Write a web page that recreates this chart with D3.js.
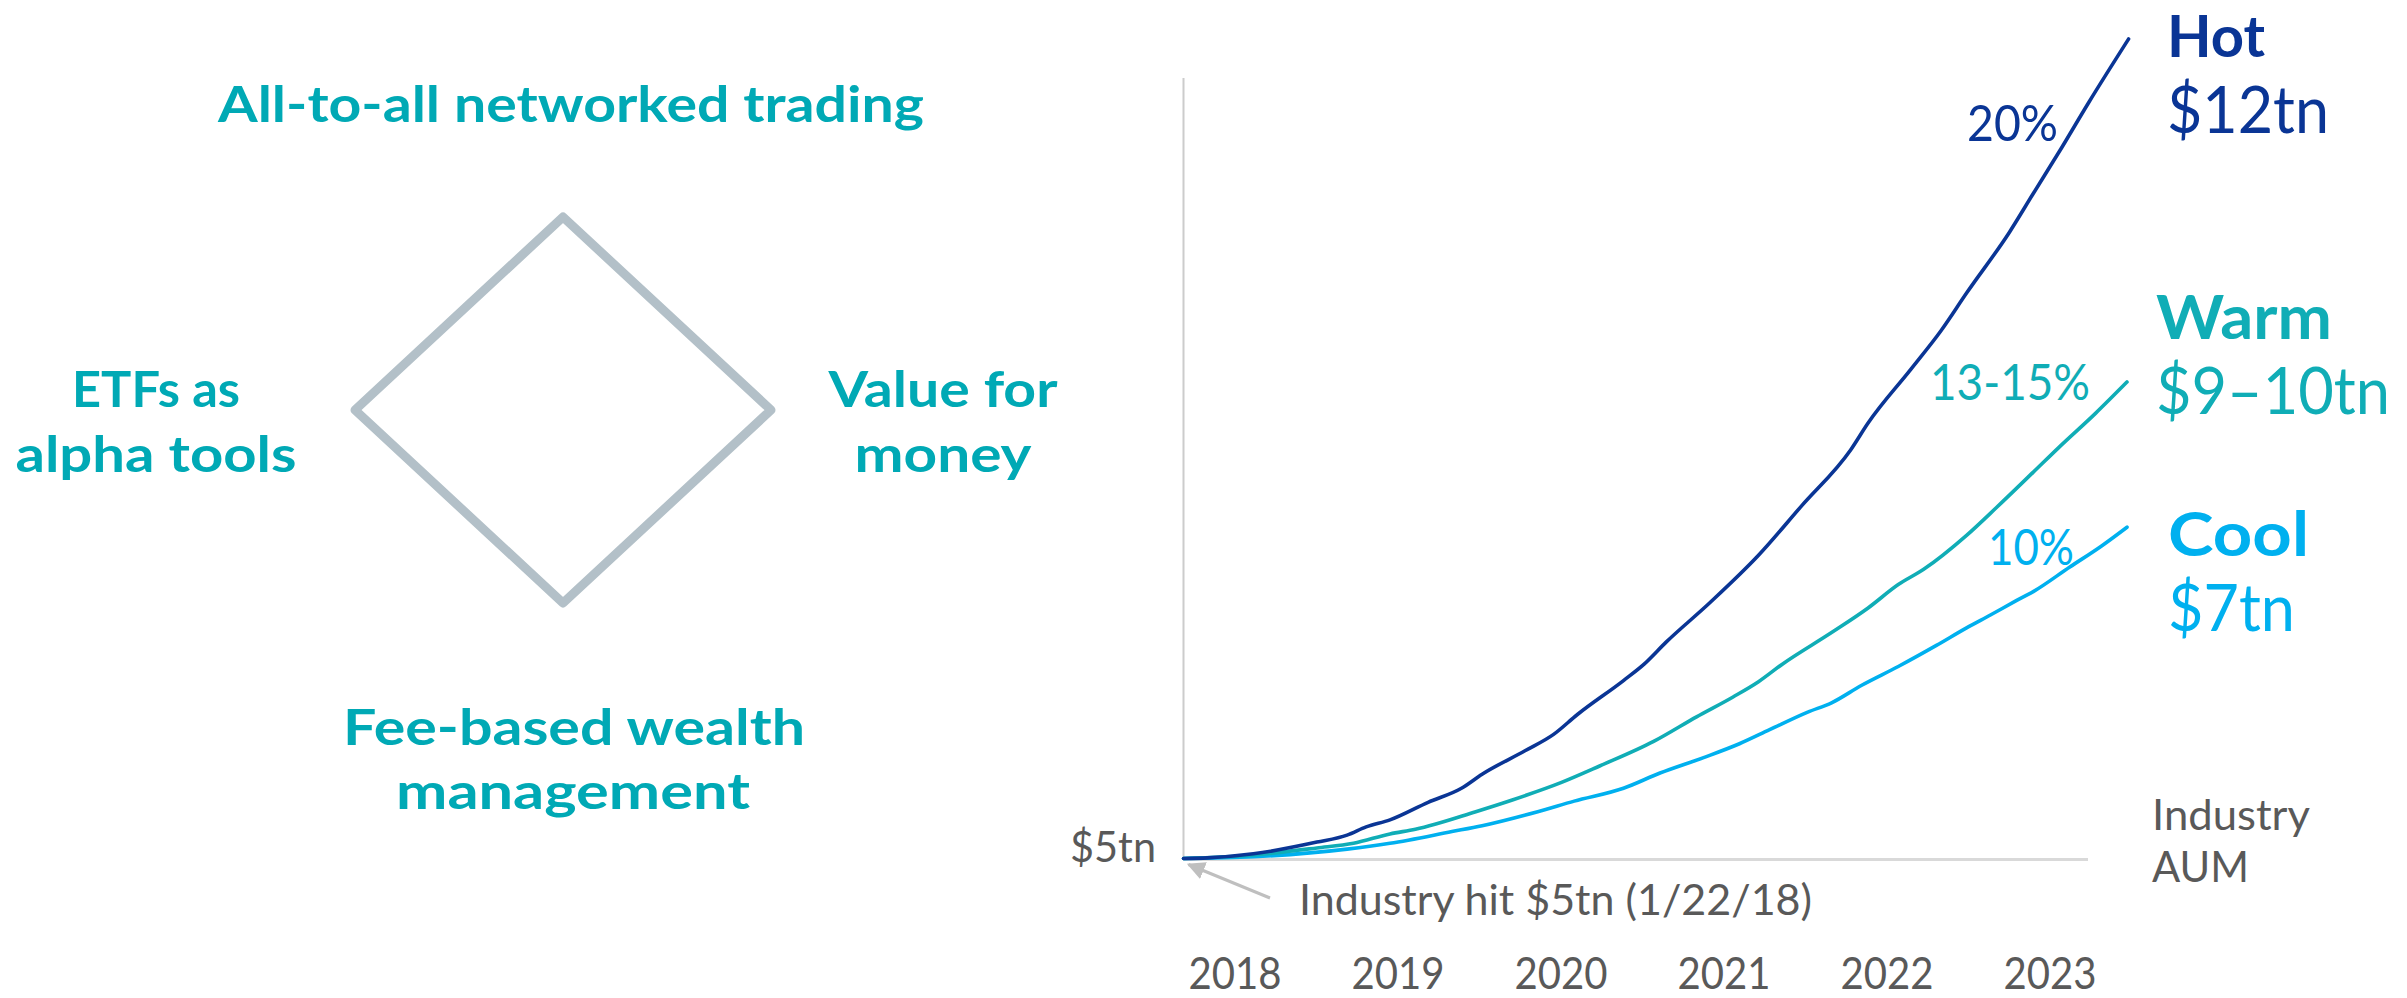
<!DOCTYPE html>
<html><head><meta charset="utf-8">
<script src="https://cdn.jsdelivr.net/npm/d3@7"></script>
<style>html,body{margin:0;padding:0;background:#fff;} svg{display:block;}</style>
</head><body>
<svg id="chart" width="2407" height="998"></svg>
<script>
// ---------- data (y in chart units, $tn scale anchored at $5tn and $12tn) ----------
const years = ["2018", "2019", "2020", "2021", "2022", "2023"];
const hotSeries = [[2018.06,5.00],[2018.21,5.005],[2018.50,5.04],[2018.90,5.14],[2019.09,5.20],[2019.21,5.27],[2019.36,5.33],[2019.60,5.48],[2019.81,5.60],[2019.94,5.72],[2020.21,5.92],[2020.39,6.06],[2020.54,6.23],[2020.83,6.52],[2020.96,6.66],[2021.10,6.85],[2021.37,7.18],[2021.68,7.59],[2021.95,8.01],[2022.26,8.49],[2022.37,8.72],[2022.64,9.18],[2022.83,9.51],[2022.99,9.83],[2023.26,10.35],[2023.41,10.68],[2023.57,11.03],[2023.76,11.46],[2024.01,12.00]];
const warmSeries = [[2018.06,5.00],[2018.50,5.03],[2018.90,5.09],[2019.13,5.13],[2019.36,5.21],[2019.52,5.25],[2019.90,5.40],[2020.13,5.50],[2020.44,5.65],[2020.68,5.79],[2021.02,6.00],[2021.29,6.21],[2021.52,6.38],[2021.68,6.51],[2021.83,6.66],[2022.14,6.93],[2022.37,7.14],[2022.56,7.34],[2022.72,7.47],[2022.99,7.76],[2023.18,8.00],[2023.41,8.30],[2023.57,8.51],[2023.80,8.80],[2024.00,9.07]];
const coolSeries = [[2018.06,5.00],[2018.50,5.015],[2019.09,5.08],[2019.36,5.13],[2019.75,5.23],[2019.94,5.28],[2020.29,5.40],[2020.52,5.49],[2020.83,5.60],[2021.06,5.73],[2021.33,5.86],[2021.56,5.98],[2021.75,6.10],[2021.99,6.25],[2022.14,6.33],[2022.33,6.48],[2022.56,6.64],[2022.80,6.82],[2022.99,6.97],[2023.14,7.08],[2023.30,7.20],[2023.41,7.28],[2023.64,7.49],[2023.84,7.67],[2024.00,7.83]];
const scenarioNames = ["Hot", "Warm", "Cool"];
const scenarioTotals = ["$12tn", "$9\u201310tn", "$7tn"];
const growthRates = ["20%", "13-15%", "10%"];
const baseLabel = "$5tn";
const noteLabel = "Industry hit $5tn (1/22/18)";
const axisTitle = ["Industry", "AUM"];
const themeTop = ["All-to-all networked trading"];
const themeLeft = ["ETFs as", "alpha tools"];
const themeRight = ["Value for", "money"];
const themeBottom = ["Fee-based wealth", "management"];

// ---------- styles ----------
const C = {hot:"#0a3595", warm:"#10adb6", cool:"#00b0ef", theme:"#00a9b5", gray:"#595959", axis:"#cccccc", diamond:"#b3c0c8"};
const FONT = "Lato, 'Open Sans', sans-serif";

const svg = d3.select("#chart");

// ---------- scales ----------
const x = d3.scaleLinear().domain([2018.06, 2024.0]).range([1183.5, 2127]);
const y = d3.scaleLinear().domain([5, 12]).range([858.5, 39]);
const xYear = d3.scalePoint().domain(years).range([1234.5, 2049.5]);

// helper for text with fixed width
function txt(g, s, o) {
  const t = g.append("text").text(s)
    .attr("x", o.x).attr("y", o.y)
    .attr("font-family", FONT)
    .attr("font-size", o.size)
    .attr("font-weight", o.bold ? 700 : 400)
    .attr("fill", o.fill)
    .attr("text-anchor", o.anchor || "start");
  if (o.len) t.attr("textLength", o.len).attr("lengthAdjust", "spacingAndGlyphs");
  return t;
}

// ---------- left: diamond with themes ----------
const left = svg.append("g");
const cx = 563, cy = 410, rx = 208, ry = 193;
left.append("path")
  .attr("d", d3.line()([[cx, cy - ry], [cx + rx, cy], [cx, cy + ry], [cx - rx, cy]]) + "Z")
  .attr("fill", "none").attr("stroke", C.diamond).attr("stroke-width", 9)
  .attr("stroke-linejoin", "round");

const th = {size: 50, bold: true, fill: C.theme, anchor: "middle"};
txt(left, themeTop[0], {...th, x: 571, y: 122, len: 706});
txt(left, themeLeft[0], {...th, x: 156, y: 407, len: 168});
txt(left, themeLeft[1], {...th, x: 156, y: 472, len: 281});
txt(left, themeRight[0], {...th, x: 943, y: 407, len: 229});
txt(left, themeRight[1], {...th, x: 943, y: 472, len: 177});
txt(left, themeBottom[0], {...th, x: 574, y: 745, len: 462});
txt(left, themeBottom[1], {...th, x: 573, y: 809, len: 354});

// ---------- right: chart ----------
const chart = svg.append("g");
// y axis line
chart.append("line")
  .attr("x1", x(2018.06)).attr("x2", x(2018.06))
  .attr("y1", 78).attr("y2", y(5))
  .attr("stroke", C.axis).attr("stroke-width", 2);
// baseline
chart.append("line")
  .attr("x1", x(2018.06)).attr("x2", 2088)
  .attr("y1", y(5) + 1).attr("y2", y(5) + 1)
  .attr("stroke", "#d9d9d9").attr("stroke-width", 3);

// x axis (year labels)
const xAxis = chart.append("g")
  .attr("transform", "translate(0,958)")
  .call(d3.axisBottom(xYear).tickSize(0).tickPadding(0));
xAxis.select(".domain").remove();
xAxis.selectAll("text")
  .attr("font-family", FONT).attr("font-size", 44).attr("fill", C.gray)
  .attr("textLength", 93).attr("lengthAdjust", "spacingAndGlyphs");

// lines
const line = d3.line().x(d => x(d[0])).y(d => y(d[1])).curve(d3.curveMonotoneX);
const series = [
  {data: coolSeries, color: C.cool},
  {data: warmSeries, color: C.warm},
  {data: hotSeries, color: C.hot}
];
chart.selectAll("path.series").data(series).join("path")
  .attr("class", "series")
  .attr("d", d => line(d.data))
  .attr("fill", "none")
  .attr("stroke", d => d.color)
  .attr("stroke-width", 3.6)
  .attr("stroke-linecap", "round")
  .attr("stroke-linejoin", "round");

// base label & note
txt(chart, baseLabel, {x: 1156, y: 862, size: 43, fill: C.gray, anchor: "end", len: 86});
txt(chart, noteLabel, {x: 1299, y: 915, size: 43, fill: C.gray, len: 513});
// arrow
svg.append("defs").append("marker")
  .attr("id", "arr").attr("viewBox", "0 0 10 10").attr("refX", 9).attr("refY", 5)
  .attr("markerWidth", 18).attr("markerHeight", 18).attr("markerUnits", "userSpaceOnUse")
  .attr("orient", "auto")
  .append("path").attr("d", "M0,0 L10,5 L0,10 Z").attr("fill", "#bfbfbf");
chart.append("line")
  .attr("x1", 1270).attr("y1", 898).attr("x2", x(2018.06) + 5).attr("y2", y(5) + 6)
  .attr("stroke", "#bfbfbf").attr("stroke-width", 3).attr("marker-end", "url(#arr)");

// axis title
txt(chart, axisTitle[0], {x: 2152, y: 830, size: 42, fill: C.gray, len: 158});
txt(chart, axisTitle[1], {x: 2152, y: 882, size: 42, fill: C.gray, len: 97});

// scenario labels
const colors = [C.hot, C.warm, C.cool];
const nameY = [57, 339, 556], totY = [133, 414, 631];
const nameSize = [57, 61, 61];
const nameX = [2167, 2156, 2168];
const nameLen = [98, 176, 141], totLen = [162, 234, 127];
scenarioNames.forEach((n, i) => {
  txt(chart, n, {x: nameX[i], y: nameY[i], size: nameSize[i], bold: true, fill: colors[i], len: nameLen[i]});
  txt(chart, scenarioTotals[i], {x: nameX[i], y: totY[i], size: 65, fill: colors[i], len: totLen[i]});
});
// growth rates
const rateX = [2058, 2090, 2074], rateY = [141, 400, 565], rateLen = [91, 160, 86];
growthRates.forEach((r, i) => {
  txt(chart, r, {x: rateX[i], y: rateY[i], size: 50, fill: colors[i], anchor: "end", len: rateLen[i]});
});
</script>
</body></html>
